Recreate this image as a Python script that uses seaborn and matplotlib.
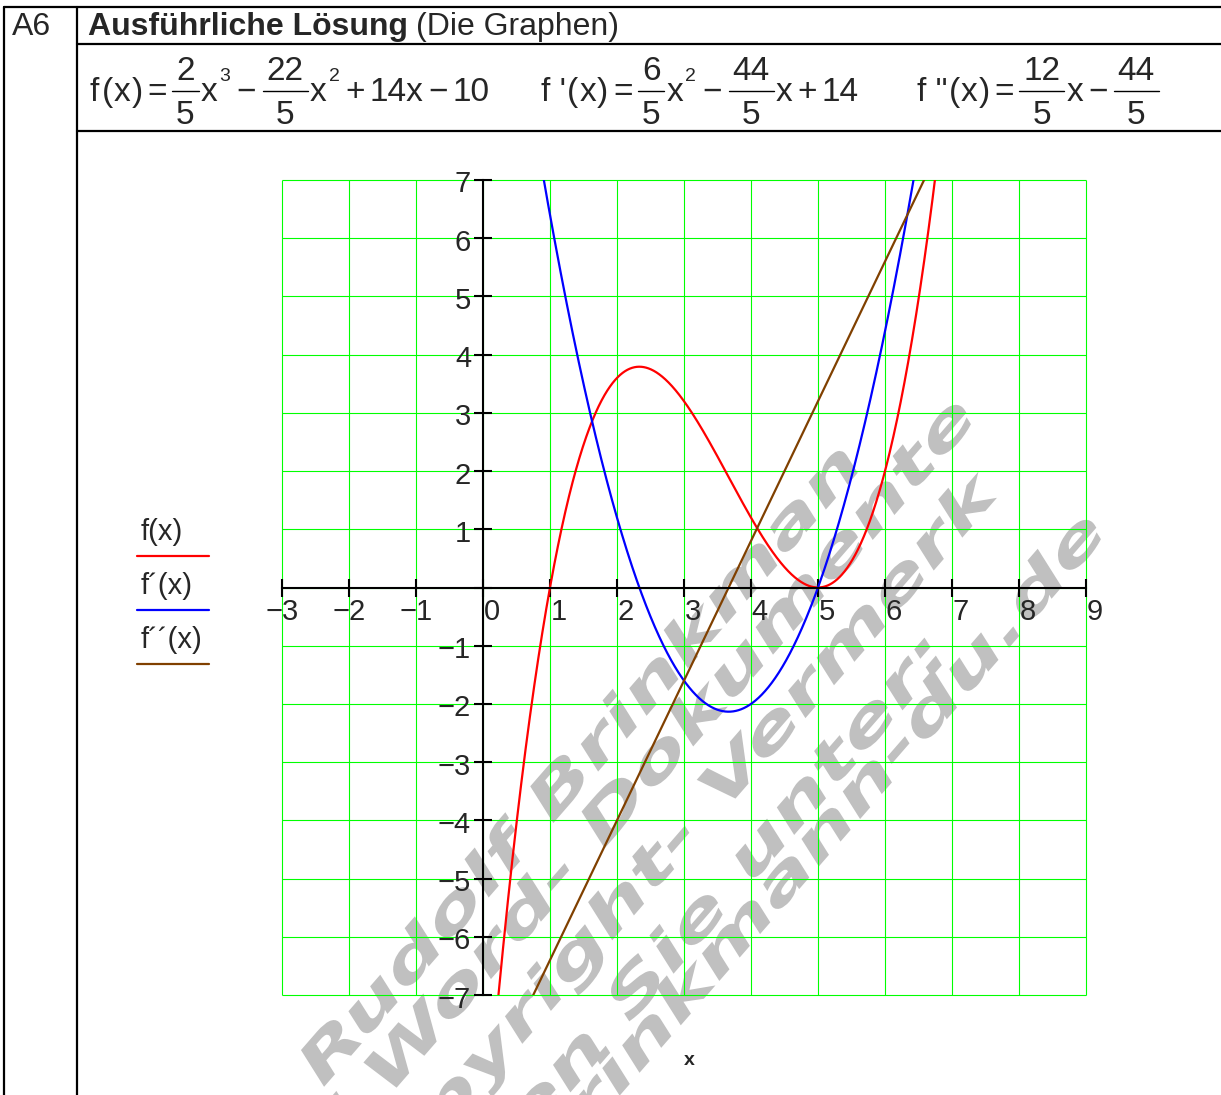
import matplotlib
matplotlib.use('Agg')
import matplotlib.pyplot as plt
import matplotlib.transforms as mtransforms
from matplotlib.textpath import TextPath
from matplotlib.patches import PathPatch
from matplotlib.font_manager import FontProperties
import numpy as np
import pandas as pd
import seaborn as sns

# polynomial coefficients as printed in the header (highest power first)
f_coef = [2 / 5, -22 / 5, 14, -10]
f1_coef = [6 / 5, -44 / 5, 14]
f2_coef = [12 / 5, -44 / 5]

curve_names = ['f(x)', 'f´(x)', 'f´´(x)']
curve_colors = ['#ff0000', '#0000ff', '#804000']

x_ticks = list(range(-3, 10))
y_ticks = list(range(-7, 8))

# formula pieces: ('t', text) normal, ('sup', text), ('frac', num, den), ('g', gap px)
formula_f = [('t', 'f'), ('g', 2), ('t', '('), ('g', 1), ('t', 'x'), ('g', 1), ('t', ')'),
             ('g', 5), ('t', '='), ('g', 4), ('frac', '2', '5'), ('t', 'x'), ('sup', '3'),
             ('g', 6), ('t', '\u2212'), ('g', 6), ('frac', '22', '5'), ('t', 'x'), ('sup', '2'),
             ('g', 6), ('t', '+'), ('g', 4), ('t', '14x'), ('g', 5), ('t', '\u2212'),
             ('g', 5), ('t', '10')]
formula_f1 = [('t', "f '"), ('g', 1), ('t', '('), ('g', 1), ('t', 'x'), ('g', 1), ('t', ')'),
              ('g', 5), ('t', '='), ('g', 4), ('frac', '6', '5'), ('t', 'x'), ('sup', '2'),
              ('g', 6), ('t', '\u2212'), ('g', 6), ('frac', '44', '5'), ('t', 'x'),
              ('g', 5), ('t', '+'), ('g', 4), ('t', '14')]
formula_f2 = [('t', 'f "'), ('g', 1), ('t', '('), ('g', 1), ('t', 'x'), ('g', 1), ('t', ')'),
              ('g', 5), ('t', '='), ('g', 4), ('frac', '12', '5'), ('t', 'x'),
              ('g', 5), ('t', '\u2212'), ('g', 5), ('frac', '44', '5')]

watermark_lines = ['© Rudolf Brinkman', 'Original Word- Dokumente',
                   'ohne Copyright- Vermerk', 'erhalten Sie unter:',
                   'www.rudolf-brinkmann-du.de']

# build the long table for seaborn
xs = np.linspace(-3, 9, 2401)
df = pd.concat([
    pd.DataFrame({'x': xs, 'y': np.polyval(c, xs), 'curve': n})
    for c, n in zip([f_coef, f1_coef, f2_coef], curve_names)
])

sns.set_style('white')
plt.rcParams['font.family'] = ['Liberation Sans', 'DejaVu Sans']

W, H = 1221, 1095
fig = plt.figure(figsize=(W / 100, H / 100), dpi=100)
renderer = fig.canvas.get_renderer()

# background layer in pixel coordinates: table, header, formulas, legend, watermark
bg = fig.add_axes([0, 0, 1, 1], zorder=0)
bg.set_xlim(0, W)
bg.set_ylim(H, 0)
bg.axis('off')

lw_tab = 1.6
bg.plot([3.5, W], [7, 7], color='black', lw=lw_tab)
bg.plot([3.5, 3.5], [7, H], color='black', lw=lw_tab)
bg.plot([77, 77], [7, H], color='black', lw=lw_tab)
bg.plot([77, W], [44, 44], color='black', lw=lw_tab)
bg.plot([77, W], [131, 131], color='black', lw=lw_tab)

bg.text(12, 35, 'A6', fontsize=23, va='baseline')
bg.text(88, 35, 'Ausführliche Lösung', fontsize=23, fontweight='bold', va='baseline')
bg.text(416, 35, '(Die Graphen)', fontsize=23, va='baseline')


def width_of(t):
    return t.get_window_extent(renderer).width


def draw_formula(x, parts, base=101, size=24):
    for kind, *val in parts:
        if kind == 'g':
            x += val[0]
        elif kind == 't':
            t = bg.text(x, base, val[0], fontsize=size, va='baseline')
            x += width_of(t)
        elif kind == 'sup':
            t = bg.text(x + 2, base - 20, val[0], fontsize=14, va='baseline')
            x += width_of(t) + 2
        elif kind == 'frac':
            tn = bg.text(0, base - 21, val[0], fontsize=size, ha='center', va='baseline')
            td = bg.text(0, base + 23, val[1], fontsize=size, ha='center', va='baseline')
            w = max(width_of(tn), width_of(td)) + 10
            tn.set_x(x + w / 2)
            td.set_x(x + w / 2)
            bg.plot([x + 1, x + w - 1], [base - 10.5] * 2, color='black', lw=1.0)
            x += w + 1
    return x


draw_formula(90, formula_f)
draw_formula(541, formula_f1)
draw_formula(917, formula_f2)

for i, (name, col) in enumerate(zip(curve_names, curve_colors)):
    bg.text(141, 540 + 54 * i, name, fontsize=21, va='baseline')
    bg.plot([137, 209], [556 + 54 * i] * 2, color=col, lw=1.6)

# watermark: wide bold italic grey text, right end of each baseline given in pixels
wm_prop = FontProperties(family='DejaVu Sans', weight='bold', style='italic')
wm_ends = [(862, 468), (977, 420), (1002, 492), (948, 658), (1107, 535)]
for s, (ex, ey) in zip(watermark_lines, wm_ends):
    tp = TextPath((0, 0), s, size=57, prop=wm_prop)
    tr = (mtransforms.Affine2D().translate(-tp.get_extents().x1, 0)
          .scale(1.55, 1).rotate_deg(49).translate(ex, H - ey))
    bg.add_patch(PathPatch(tp, transform=tr, facecolor='#c0c0c0', edgecolor='none',
                           clip_on=False, zorder=0.2))

bg.text(689, 1065, 'x', fontsize=14, fontweight='bold', ha='center', va='baseline')

# the graph itself
ax = fig.add_axes([282 / W, (H - 995) / H, 804 / W, 815 / H], zorder=1)
ax.patch.set_alpha(0)

ax.vlines(x_ticks, y_ticks[0], y_ticks[-1], colors='#00ff00', lw=0.8, zorder=0.5, clip_on=False)
ax.hlines(y_ticks, x_ticks[0], x_ticks[-1], colors='#00ff00', lw=0.8, zorder=0.5, clip_on=False)

sns.lineplot(data=df, x='x', y='y', hue='curve', hue_order=curve_names,
             palette=dict(zip(curve_names, curve_colors)), lw=1.6,
             legend=False, sort=False, estimator=None, ax=ax)

ax.set_xlim(x_ticks[0], x_ticks[-1])
ax.set_ylim(y_ticks[0], y_ticks[-1])
ax.set_xlabel('')
ax.set_ylabel('')
for s in ['top', 'right']:
    ax.spines[s].set_visible(False)
for s in ['left', 'bottom']:
    ax.spines[s].set_position(('data', 0))
    ax.spines[s].set_linewidth(1.5)
    ax.spines[s].set_color('black')
    ax.spines[s].set_zorder(3)
ax.set_xticks(x_ticks)
ax.set_yticks(y_ticks)
ax.tick_params(bottom=True, left=True, direction='inout', length=13, width=1.5,
               colors='black', labelbottom=False, labelleft=False)


def lbl(v):
    return str(v).replace('-', '\u2212')


off_x = mtransforms.ScaledTranslation(0.17, -0.32, fig.dpi_scale_trans)
for v in x_ticks:
    ax.text(v, 0, lbl(v), transform=ax.transData + off_x, ha='right', va='baseline', fontsize=21)

off_y = mtransforms.ScaledTranslation(-0.12, -0.125, fig.dpi_scale_trans)
for v in y_ticks:
    if v != 0:
        ax.text(0, v, lbl(v), transform=ax.transData + off_y, ha='right', va='baseline', fontsize=21)

fig.savefig('out.png', dpi=100)
